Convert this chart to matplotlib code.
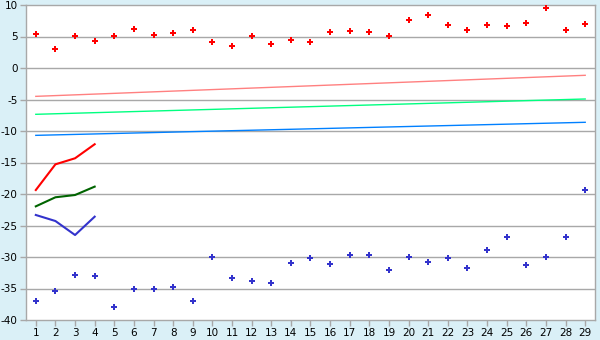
import numpy as np
import matplotlib
matplotlib.use("Agg")
import matplotlib.pyplot as plt

plt.rcParams["axes.unicode_minus"] = False

days = list(range(1, 30))

high_points = [5.35, 2.97, 5.03, 4.24, 5.03, 6.14, 5.19, 5.5, 5.98, 4.08,
               3.44, 5.03, 3.76, 4.4, 4.08, 5.66, 5.82, 5.66, 5.03, 7.57,
               8.36, 6.78, 5.98, 6.78, 6.62, 7.1, 9.47, 5.98, 6.94]
low_points = [-37.03, -35.44, -32.9, -33.07, -37.98, -35.13, -35.13, -34.8, -37.03, -30.05,
              -33.38, -33.86, -34.18, -31.0, -30.21, -31.16, -29.73, -29.73, -32.11, -30.05,
              -30.84, -30.21, -31.8, -28.94, -26.87, -31.32, -30.05, -26.87, -19.4]

first_days = [1, 2, 3, 4]
red_line = [-19.37, -15.29, -14.33, -12.1]
green_line = [-21.96, -20.52, -20.16, -18.83]
blue_line = [-23.33, -24.29, -26.51, -23.6]

trend_days = [1, 29]
trend_pink = [-4.5, -1.16]
trend_green = [-7.35, -4.92]
trend_blue = [-10.69, -8.62]

bg = "#DAF0F7"
grid_c = "#A8A8A8"

fig = plt.figure(figsize=(6, 3.4), dpi=100, facecolor=bg)
ax = fig.add_axes([26 / 600, 20 / 340, 569 / 600, 315 / 340])
ax.set_facecolor("white")

for y in range(-35, 10, 5):
    ax.axhline(y, color=grid_c, lw=1, zorder=1)

ax.plot(trend_days, trend_pink, color="#FF8080", lw=1, zorder=2)
ax.plot(trend_days, trend_green, color="#00FF80", lw=1, zorder=2)
ax.plot(trend_days, trend_blue, color="#0080FF", lw=1, zorder=2)

ax.plot(first_days, red_line, color="#FF0000", lw=1.5, zorder=3)
ax.plot(first_days, green_line, color="#006400", lw=1.5, zorder=3)
ax.plot(first_days, blue_line, color="#3333CC", lw=1.5, zorder=3)

ax.plot(days, high_points, "P", color="#FF0000", ms=5, mew=0, ls="none", zorder=4)
ax.plot(days, low_points, "P", color="#3333CC", ms=5, mew=0, ls="none", zorder=4)

ax.set_xlim(0.5, 29.5)
ax.set_ylim(-40, 10)
ax.set_xticks(days)
ax.set_yticks(range(-40, 11, 5))
ax.tick_params(axis="both", colors="#000000", labelsize=7.5, length=4, width=1, pad=2)
ax.tick_params(axis="both", color=grid_c)
for s in ax.spines.values():
    s.set_color(grid_c)
    s.set_linewidth(1)

fig.savefig("out.png", dpi=100, facecolor=bg)
